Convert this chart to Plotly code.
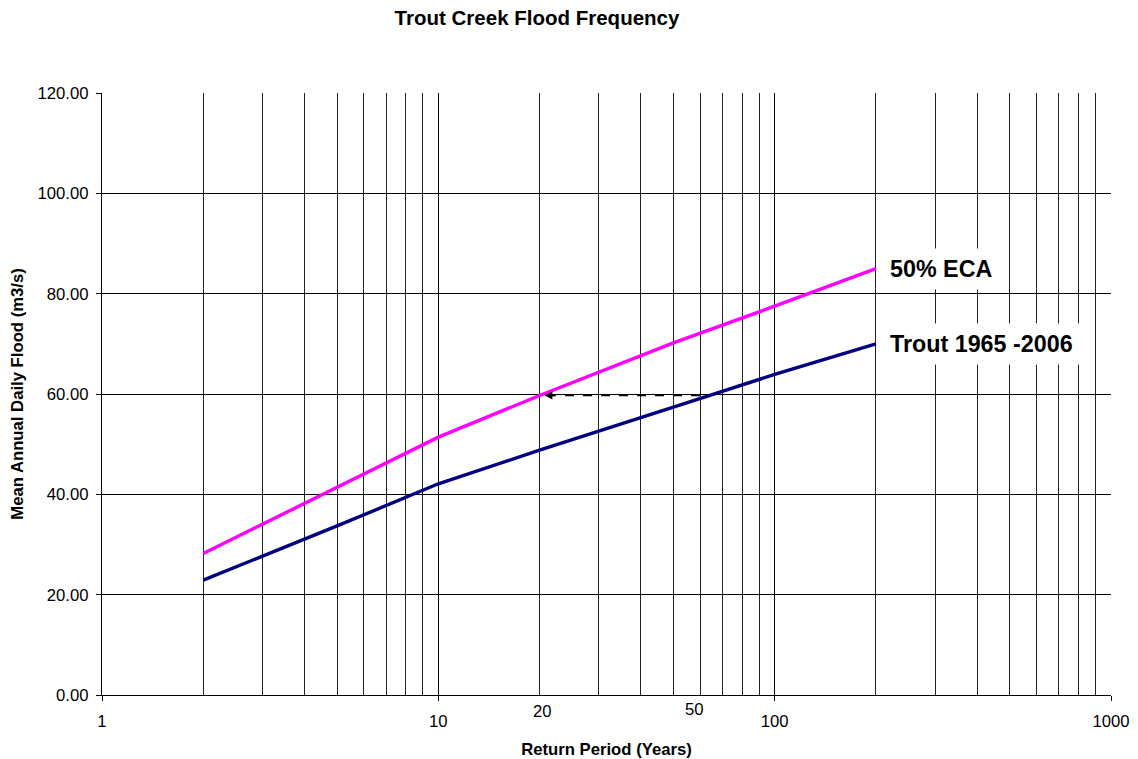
import math
import plotly.graph_objects as go

# ---- data ----
return_period = [2, 5, 10, 20, 50, 100, 200]
eca50_flow = [28.2, 41.4, 51.4, 59.7, 70.2, 77.5, 85.0]
trout_flow = [22.9, 33.7, 42.1, 48.8, 57.4, 63.9, 70.0]

series_names = ["50% ECA", "Trout 1965 -2006"]
series_colors = ["#FF00FF", "#000080"]

arrow_from = (60, 59.7)
arrow_to = (20.7, 59.7)

x_major_ticks = [1, 10, 100, 1000]
x_minor_ticks = [m * d for d in (1, 10, 100) for m in range(2, 10)]
y_ticks = [0, 20, 40, 60, 80, 100, 120]

extra_x_labels = [("20", 20.4, -16.7), ("50", 57.7, -14.3)]

FONT = "Liberation Sans, Arial, sans-serif"

fig = go.Figure()

for name, ys, col in zip(series_names, [eca50_flow, trout_flow], series_colors):
    fig.add_trace(go.Scatter(x=return_period, y=ys, mode="lines", name=name,
                             line=dict(color=col, width=3.4), showlegend=False))

# dashed arrow shaft
fig.add_trace(go.Scatter(x=[arrow_from[0], arrow_to[0]], y=[arrow_from[1], arrow_to[1]],
                         mode="lines", line=dict(color="black", width=1.3, dash="dash"),
                         showlegend=False, hoverinfo="skip"))

annotations = []
# arrowhead
annotations.append(dict(x=math.log10(arrow_to[0]), y=arrow_to[1],
                        ax=math.log10(arrow_to[0] * 1.08), ay=arrow_to[1],
                        xref="x", yref="y", axref="x", ayref="y",
                        showarrow=True, arrowhead=2, arrowsize=1.2, arrowwidth=1.3,
                        arrowcolor="black", text=""))

# series labels at line ends
for name, ys in zip(series_names, [eca50_flow, trout_flow]):
    annotations.append(dict(x=math.log10(return_period[-1]), y=ys[-1], xref="x", yref="y",
                            text="<b>%s</b>" % name, showarrow=False,
                            xanchor="left", yanchor="middle", xshift=6,
                            bgcolor="white", borderpad=7,
                            font=dict(family=FONT, size=23.3, color="black")))

# extra x labels (20, 50)
for txt, xv, ys in extra_x_labels:
    annotations.append(dict(x=math.log10(xv), y=0, xref="x", yref="paper",
                            text=txt, showarrow=False, xanchor="center", yanchor="middle",
                            yshift=ys, font=dict(family=FONT, size=16.7, color="black")))

fig.update_layout(
    width=1138, height=759,
    margin=dict(l=102, r=27, t=93, b=64, autoexpand=False),
    paper_bgcolor="white", plot_bgcolor="white",
    font=dict(family=FONT, size=16.7, color="black"),
    title=dict(text="<b>Trout Creek Flood Frequency</b>", x=537 / 1138, xanchor="center",
               xref="container", y=1 - 17.5 / 759, yanchor="middle", yref="container",
               font=dict(family=FONT, size=20.5, color="black")),
    annotations=annotations,
    xaxis=dict(type="log", range=[0, 3], tickvals=x_major_ticks,
               ticktext=[str(v) for v in x_major_ticks],
               ticks="outside", ticklen=5, tickcolor="black", tickwidth=1,
               showline=True, linecolor="black", linewidth=1.3,
               showgrid=True, gridcolor="black", gridwidth=1,
               minor=dict(tickvals=x_minor_ticks, showgrid=True, gridcolor="#222222",
                          gridwidth=1, ticks=""),
               zeroline=False, ticklabelstandoff=6, automargin=False,
               title=dict(text="<b>Return Period (Years)</b>", standoff=14,
                          font=dict(family=FONT, size=16.7, color="black"))),
    yaxis=dict(range=[0, 120], tickvals=y_ticks, tickformat=".2f",
               ticks="outside", ticklen=5, tickcolor="black", tickwidth=1,
               showline=True, linecolor="black", linewidth=1.3,
               showgrid=True, gridcolor="black", gridwidth=1, zeroline=False,
               ticklabelstandoff=4, automargin=False,
               title=dict(text="<b>Mean Annual Daily Flood (m3/s)</b>", standoff=9,
                          font=dict(family=FONT, size=16.7, color="black"))),
)

fig.write_html("out.html")
